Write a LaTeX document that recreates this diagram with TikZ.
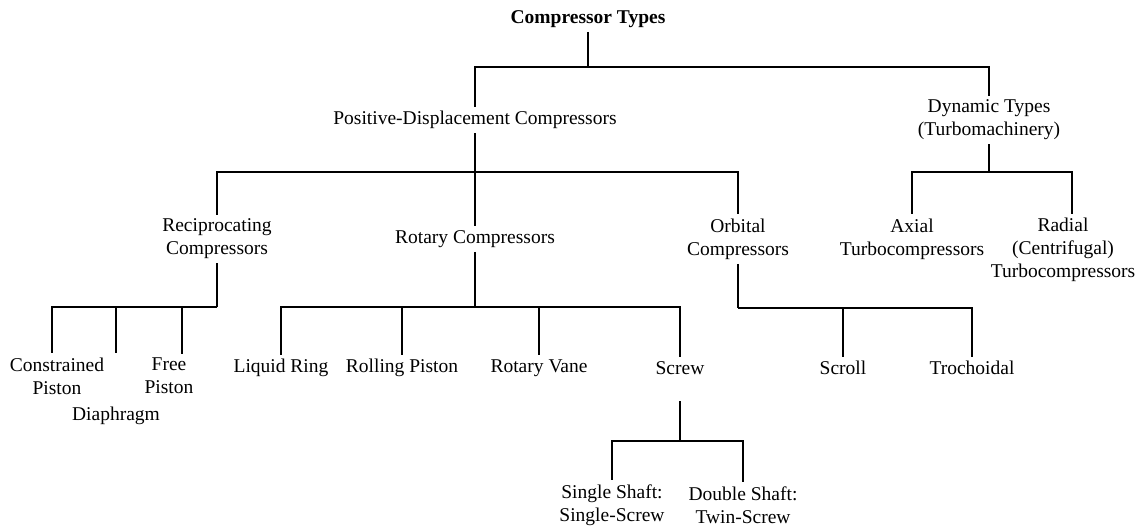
\documentclass[tikz,border=0pt]{standalone}
\usepackage{fontspec}
\setmainfont{Liberation Serif}
\usepackage{tikz}
\usetikzlibrary{positioning}

\begin{document}
\begin{tikzpicture}[x=0.5pt, y=-0.5pt,
		lbl/.style={align=center, inner sep=2pt, font=\fontsize{9.75}{11.5}\selectfont},
		link/.style={line width=0.6pt},
		stem/.style={line width=1pt}]
		\useasboundingbox (0,0) rectangle (1138,527);
		\node[lbl, font=\fontsize{9.75}{11.5}\selectfont\bfseries](title) at (588,19){Compressor Types};
		\node[lbl](pd) at (475,120){Positive-Displacement Compressors};
		\node[lbl](dyn) at (989,120){Dynamic Types\\(Turbomachinery)};
		\node[lbl](recip) at (217,239){Reciprocating\\Compressors};
		\node[lbl](rotary) at (475,239){Rotary Compressors};
		\node[lbl](orbital) at (738,239){Orbital\\Compressors};
		\node[lbl](axial) at (912,239){Axial\\Turbocompressors};
		\node[lbl](radial) at (1063,250){Radial\\(Centrifugal)\\Turbocompressors};
		\node[lbl](constrained) at (57,376){Constrained\\Piston};
		\node[lbl](diaphragm) at (116,416){Diaphragm};
		\node[lbl](free) at (169,376){Free\\Piston};
		\node[lbl](liquid) at (281,368){Liquid Ring};
		\node[lbl](rolling) at (402,368){Rolling Piston};
		\node[lbl](vane) at (539,368){Rotary Vane};
		\node[lbl](screw) at (680,368){Screw};
		\node[lbl](scroll) at (843,368){Scroll};
		\node[lbl](troch) at (972,368){Trochoidal};
		\node[lbl](single) at (612,505){Single Shaft:\\Single-Screw};
		\node[lbl](double) at (743,505){Double Shaft:\\Twin-Screw};

		\coordinate (topBar) at (588,67);
		\coordinate (pdBar) at (475,172);
		\coordinate (dynBar) at (989,172);
		\coordinate (recipBar) at (217,307);
		\coordinate (rotBar) at (475,307);
		\coordinate (orbBar) at (738,308);
		\coordinate (screwStem) at (680,401);
		\coordinate (screwBar) at (680,441);

		\draw[stem] (title.south) -- (topBar);
		\draw[link] (topBar) -| (pd.north);
		\draw[link] (topBar) -| (dyn.north);

		\draw[stem] (pd.south) -- (pdBar);
		\draw[link] (pdBar) -| (recip.north);
		\draw[link] (pdBar) -- (rotary.north);
		\draw[link] (pdBar) -| (orbital.north);

		\draw[stem] (dyn.south) -- (dynBar);
		\draw[link] (dynBar) -| (axial.north);
		\draw[link] (dynBar) -| ([xshift=4.5pt]radial.north);

		\draw[stem] (recip.south) -- (recipBar);
		\draw[link] (recipBar) -| ([xshift=-2.5pt]constrained.north);
		\draw[link] (recipBar) -| (diaphragm.north |- constrained.north);
		\draw[link] (recipBar) -| ([xshift=6.5pt]free.north);

		\draw[stem] (rotary.south) -- (rotBar);
		\draw[link] (rotBar) -| (liquid.north);
		\draw[link] (rotBar) -| (rolling.north);
		\draw[link] (rotBar) -| (vane.north);
		\draw[link] (rotBar) -| (screw.north);

		\draw[stem] (orbital.south) -- (orbBar);
		\draw[link] (orbBar) -| (scroll.north);
		\draw[link] (orbBar) -| (troch.north);

		\draw[stem] (screwStem) -- (screwBar);
		\draw[link] (screwBar) -| (single.north);
		\draw[link] (screwBar) -| (double.north);
	\end{tikzpicture}
\end{document}
